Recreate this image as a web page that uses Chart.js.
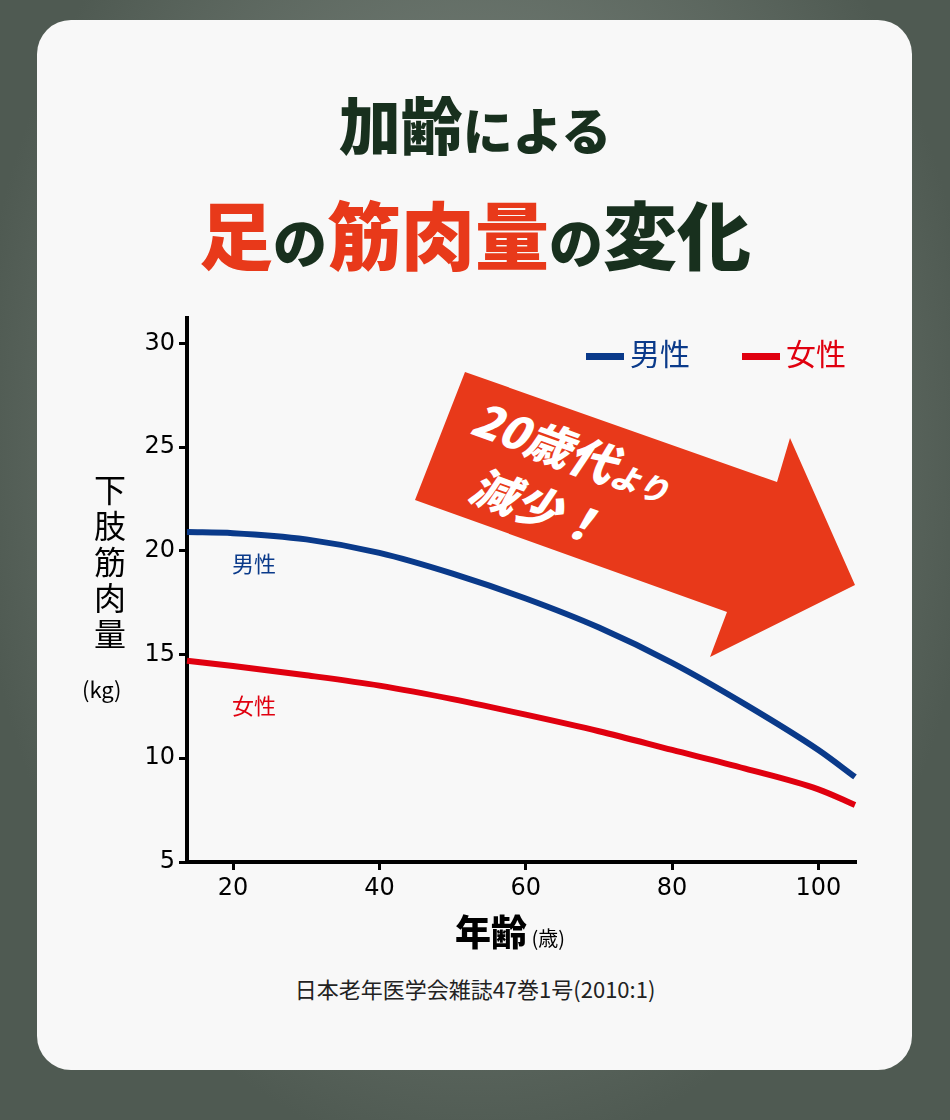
<!DOCTYPE html>
<html><head><meta charset="utf-8">
<script src="https://cdn.jsdelivr.net/npm/chart.js"></script>
<style>
body{margin:0;width:950px;height:1120px;overflow:hidden;background:radial-gradient(ellipse at 50% 40%,#8a948c,#4f5a52 75%);font-family:"Noto Sans CJK JP",sans-serif;position:relative}
.card{position:absolute;left:37px;top:20px;width:875px;height:1050px;background:#f8f8f8;border-radius:34px}
.t{position:absolute;left:0;width:950px;text-align:center;font-weight:900;color:#18301e;white-space:nowrap}
.r{color:#e8391a}
.abs{position:absolute;white-space:nowrap}
canvas{position:absolute;left:80px;top:300px}
</style></head><body>
<div class="card"></div>
<div class="t" style="top:78px;font-size:62px">加齢<span style="font-size:50px">による</span></div>
<div class="t" style="top:178px;font-size:74px"><span class="r">足</span><span style="font-size:54px">の</span><span class="r">筋肉量</span><span style="font-size:54px">の</span>変化</div>
<svg class="abs" style="left:0;top:0" width="950" height="1120">
<polygon points="465,372 777,482 790,438 855,585 710,657 727,612 415,500" fill="#e8391a"/>
</svg>
<div class="abs" style="left:485px;top:388px;transform:rotate(20deg);transform-origin:0 0;color:#fff;font-weight:900;font-size:46px;line-height:56px;font-style:italic">20歳代<span style="font-size:30px">より</span><br>&nbsp;&nbsp;減少！</div>
<canvas id="c" width="800" height="620"></canvas>
<div class="abs" style="left:90px;top:470px;font-size:32px;line-height:36px;width:40px;text-align:center;color:#000">下<br>肢<br>筋<br>肉<br>量</div>
<div class="abs" style="left:82px;top:672px;font-size:22px;color:#000">(kg)</div>
<div class="abs" style="left:232px;top:546px;font-size:22px;color:#0a3a8a">男性</div>
<div class="abs" style="left:232px;top:688px;font-size:22px;color:#e0000f">女性</div>
<div class="abs" style="left:586px;top:330px;font-size:30px;color:#0a3a8a"><span style="display:inline-block;width:38px;height:7px;background:#0a3a8a;vertical-align:middle;margin-right:6px"></span>男性</div>
<div class="abs" style="left:742px;top:330px;font-size:30px;color:#e0000f"><span style="display:inline-block;width:38px;height:7px;background:#e0000f;vertical-align:middle;margin-right:6px"></span>女性</div>
<div class="abs" style="left:455px;top:904px;font-size:36px;font-weight:900;color:#000">年齢<span style="font-size:20px;font-weight:400"> (歳)</span></div>
<div class="t" style="top:972px;font-size:22px;font-weight:400;color:#222">日本老年医学会雑誌47巻1号(2010:1)</div>
<script>
const ages = [13.7, 20, 30, 40, 50, 60, 70, 80, 90, 100, 105];
const male = [20.9, 20.85, 20.55, 19.9, 18.9, 17.7, 16.3, 14.6, 12.6, 10.4, 9.1];
const female = [14.7, 14.45, 14.0, 13.5, 12.85, 12.1, 11.3, 10.4, 9.5, 8.5, 7.75];
const xTicks = [20, 40, 60, 80, 100];

function pts(ys){ return ages.map((a, i) => ({x: a, y: ys[i]})); }

new Chart(document.getElementById('c'), {
  type: 'line',
  data: {
    datasets: [
      {data: pts(male), borderColor: '#0a3a8a', borderWidth: 6, pointRadius: 0, cubicInterpolationMode: 'monotone', clip: false},
      {data: pts(female), borderColor: '#e0000f', borderWidth: 6, pointRadius: 0, cubicInterpolationMode: 'monotone', clip: false}
    ]
  },
  options: {
    responsive: false,
    animation: false,
    layout: {padding: {top: 18, right: 25, left: 0, bottom: 0}},
    plugins: {legend: {display: false}, tooltip: {enabled: false}},
    scales: {
      x: {
        type: 'linear', min: 13.7, max: 105,
        afterFit: s => { s.height = 58; },
        afterBuildTicks: s => { s.ticks = xTicks.map(v => ({value: v})); },
        grid: {drawOnChartArea: false, color: '#000', lineWidth: 3, tickLength: 8},
        border: {color: '#000', width: 4},
        ticks: {color: '#000', font: {size: 24, family: 'DejaVu Sans'}, padding: 4}
      },
      y: {
        min: 5, max: 31.2,
        afterFit: s => { s.width = 107; },
        afterBuildTicks: s => { s.ticks = [5, 10, 15, 20, 25, 30].map(v => ({value: v})); },
        grid: {drawOnChartArea: false, color: '#000', lineWidth: 3, tickLength: 8},
        border: {color: '#000', width: 4},
        ticks: {color: '#000', font: {size: 24, family: 'DejaVu Sans'}, padding: 4}
      }
    }
  }
});
</script>
</body></html>
